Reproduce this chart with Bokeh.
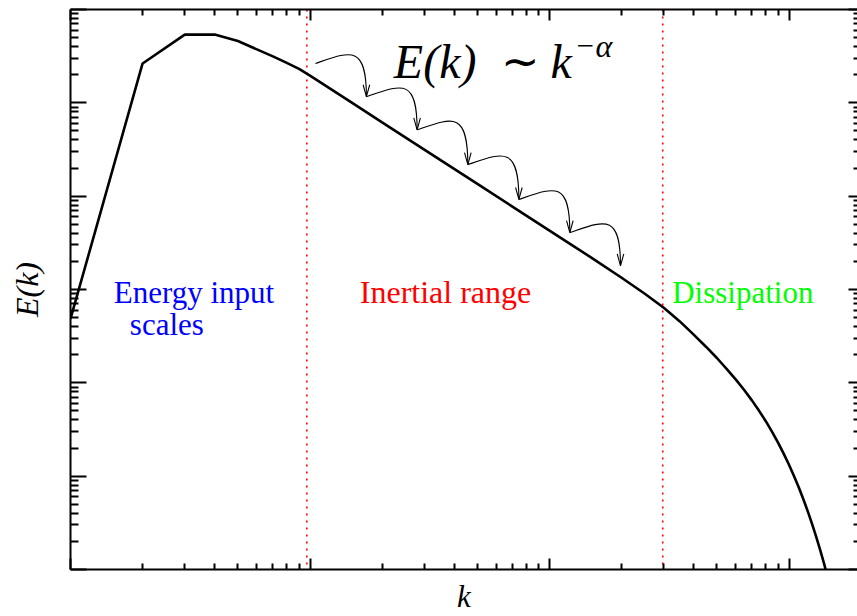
import math
from bokeh.plotting import figure
from bokeh.models import (Range1d, LogAxis, FixedTicker, CustomJSTickFormatter,
                          Span, ColumnDataSource)
from bokeh.core.properties import value
from bokeh.embed import file_html
from bokeh.resources import INLINE

# ---------------- data ----------------
K = [1, 2, 3, 4, 5, 6, 7, 8, 9, 10, 12, 15, 20, 30, 50, 70, 100, 150, 200, 250,
     300, 350, 400, 450, 500, 550, 600, 650, 700, 750, 800, 850, 900, 950, 1000,
     1050, 1100, 1150, 1200, 1250, 1300, 1350, 1400, 1450]
E = [4.853e-4, 0.2642, 0.5383, 0.5383, 0.4592, 0.3741, 0.3148, 0.2679, 0.2312,
     0.1954, 0.1445, 0.09977, 0.06180, 0.03155, 0.01352, 0.007727, 0.004276,
     0.002183, 1.337e-3, 9.016e-4, 6.383e-4, 4.550e-4, 3.289e-4, 2.438e-4,
     1.845e-4, 1.403e-4, 1.081e-4, 8.375e-5, 6.486e-5, 5.012e-5, 3.882e-5,
     2.985e-5, 2.286e-5, 1.746e-5, 1.324e-5, 1.000e-5, 7.499e-6, 5.585e-6,
     4.140e-6, 3.041e-6, 2.223e-6, 1.614e-6, 1.161e-6, 8.279e-7]

BOUNDARY_K = [9.7, 297]                 # red dotted range limits

# cascade arrows: chain of points (start of first arrow, then each tip)
ARROW_K = [10.54, 17.2, 28.0, 45.6, 74.5, 121.6, 197.9]
ARROW_E = [0.2642, 0.1164, 0.0514, 0.02178, 0.009226, 0.004074, 0.001795]

REGION_TEXT = ["Energy input", "scales", "Inertial range", "Dissipation"]
REGION_K = [1.516, 1.769, 36.8, 325.3]
REGION_E = [9.397e-4, 4.188e-4, 9.397e-4, 9.397e-4]
REGION_COLOR = ["#0000ff", "#0000ff", "#ff0000", "#00ff00"]

X_MAJOR = [1, 10, 100, 1000]
X_MINOR = [m * d for d in (1, 10, 100, 1000) for m in range(2, 10)]
Y_MAJOR = [1e-6, 1e-5, 1e-4, 1e-3, 1e-2, 1e-1, 1]
Y_MINOR = [m * 10.0 ** e for e in range(-6, 0) for m in range(2, 10)]

XMIN, XMAX = 1, 1932
YMIN, YMAX = 1e-6, 1
FRAME_W, FRAME_H = 787, 563
FONT = "Liberation Serif"

# ---------------- figure ----------------
p = figure(width=857, height=616, x_axis_type="log", y_axis_type="log",
           x_range=Range1d(XMIN, XMAX), y_range=Range1d(YMIN, YMAX),
           output_backend="svg", toolbar_location=None,
           min_border_left=70, min_border_right=0,
           min_border_top=9, min_border_bottom=44)
p.grid.visible = False
p.outline_line_color = None
p.background_fill_color = "white"
p.border_fill_color = "white"

bottom = p.below[0]
left = p.left[0]
top = LogAxis()
right = LogAxis()
p.add_layout(top, "above")
p.add_layout(right, "right")


def style_axis(ax, major, minor, tin, tmin, show_line=True):
    ax.ticker = FixedTicker(ticks=major, minor_ticks=minor)
    ax.formatter = CustomJSTickFormatter(code="return ''")
    ax.major_label_text_font_size = "0px"
    ax.major_label_standoff = 0
    ax.major_tick_in = tin
    ax.major_tick_out = 0
    ax.minor_tick_in = tmin
    ax.minor_tick_out = 0
    ax.axis_line_width = 2
    ax.axis_line_color = "black" if show_line else None
    ax.major_tick_line_color = "black"
    ax.minor_tick_line_color = "black"
    ax.major_tick_line_width = 2
    ax.minor_tick_line_width = 2


style_axis(bottom, X_MAJOR, X_MINOR, 11, 6)
style_axis(top, X_MAJOR, X_MINOR, 11, 6)
style_axis(left, Y_MAJOR, Y_MINOR, 16, 8)
style_axis(right, Y_MAJOR, Y_MINOR, 9, 4, show_line=False)

bottom.axis_label = "k"
bottom.axis_label_text_font = FONT
bottom.axis_label_text_font_style = "italic"
bottom.axis_label_text_font_size = "31px"
bottom.axis_label_text_color = "black"
bottom.axis_label_standoff = 9

left.axis_label = "E(k)"
left.axis_label_text_font = FONT
left.axis_label_text_font_style = "italic"
left.axis_label_text_font_size = "32px"
left.axis_label_text_color = "black"
left.axis_label_standoff = 26

# range boundaries
for kb in BOUNDARY_K:
    p.add_layout(Span(location=kb, dimension="height", line_color="#ff0000",
                      line_dash="2 5", line_width=1.6, level="underlay"))

# spectrum
p.line(K, E, line_color="black", line_width=2.6)

# cascade arrows
PXX = FRAME_W / math.log10(XMAX / XMIN)
PXY = FRAME_H / math.log10(YMAX / YMIN)


def shift(k, e, dx, dy):
    return k * 10 ** (dx / PXX), e * 10 ** (dy / PXY)


x0, y0, x1, y1, cx0, cy0, cx1, cy1 = [], [], [], [], [], [], [], []
hx, hy = [], []
for i in range(len(ARROW_K) - 1):
    ks, es = ARROW_K[i], ARROW_E[i]
    kt, et = ARROW_K[i + 1], ARROW_E[i + 1]
    a, b = shift(ks, es, 35, 12)
    c, d = kt, shift(ks, es, 0, 20)[1]
    x0.append(ks); y0.append(es); x1.append(kt); y1.append(et)
    cx0.append(a); cy0.append(b); cx1.append(c); cy1.append(d)
    lx, ly = shift(kt, et, -3.3, 12)
    rx, ry = shift(kt, et, 3.3, 12)
    hx.append([lx, kt, rx]); hy.append([ly, et, ry])

p.bezier(x0=x0, y0=y0, x1=x1, y1=y1, cx0=cx0, cy0=cy0, cx1=cx1, cy1=cy1,
         line_color="black", line_width=1.1)
p.multi_line(hx, hy, line_color="black", line_width=1.1)

# region labels
src = ColumnDataSource(dict(x=REGION_K[:2] + REGION_K[3:], y=REGION_E[:2] + REGION_E[3:],
                            text=REGION_TEXT[:2] + REGION_TEXT[3:],
                            color=REGION_COLOR[:2] + REGION_COLOR[3:]))
p.text(x="x", y="y", text="text", text_color="color", source=src,
       text_font=value(FONT), text_font_size=value("31px"),
       text_align="left", text_baseline="alphabetic")
p.text(x=[REGION_K[2]], y=[REGION_E[2]], text=[REGION_TEXT[2]],
       text_color=REGION_COLOR[2], text_font=value(FONT),
       text_font_size=value("32px"), text_align="center",
       text_baseline="alphabetic")

# formula E(k) ~ k^{-alpha}
F_BASE = 0.2773
SUP_BASE = 0.4102
p.text(x=[22.39], y=[F_BASE], text=["E(k)"], text_color="black",
       text_font=value(FONT), text_font_style="italic",
       text_font_size=value("48px"), text_align="left", text_baseline="alphabetic")
p.text(x=[62.5], y=[F_BASE], text=["\u223c"], text_color="black",
       text_font=value(FONT), text_font_size=value("46px"),
       text_align="left", text_baseline="alphabetic")
p.text(x=[100.97], y=[F_BASE], text=["k"], text_color="black",
       text_font=value(FONT), text_font_style="italic",
       text_font_size=value("48px"), text_align="left", text_baseline="alphabetic")
p.text(x=[129.7], y=[SUP_BASE], text=["\u2212"], text_color="black",
       text_font=value(FONT), text_font_size=value("31px"),
       text_align="left", text_baseline="alphabetic")
p.text(x=[155.6], y=[SUP_BASE], text=["\u03b1"], text_color="black",
       text_font=value(FONT), text_font_style="italic",
       text_font_size=value("32px"), text_align="left", text_baseline="alphabetic")

open("out.html", "w").write(file_html(p, INLINE))
